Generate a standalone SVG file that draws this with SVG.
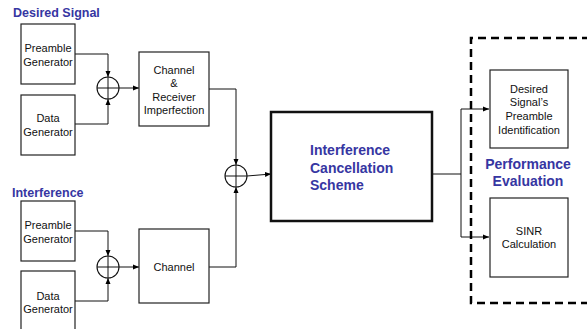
<svg xmlns="http://www.w3.org/2000/svg" width="587" height="329" viewBox="0 0 587 329">
<defs>
<marker id="ah" viewBox="0 0 6 6" refX="6" refY="3" markerWidth="6" markerHeight="6" markerUnits="userSpaceOnUse" orient="auto"><path d="M0,0.5 L6,3 L0,5.5 z" fill="#000"/></marker>
<style>
.box{fill:#fff;stroke:#222;stroke-width:1.2}
.t{font-family:"Liberation Sans",Arial,sans-serif;font-size:11px;fill:#111;text-anchor:middle}
.h{font-family:"Liberation Sans",Arial,sans-serif;font-weight:bold;fill:#3636a2}
.ln{fill:none;stroke:#111;stroke-width:1}
.sum circle{fill:#fff;stroke:#111;stroke-width:1.1}
.sum path{stroke:#111;stroke-width:1;fill:none}
</style>
</defs>
<rect width="587" height="329" fill="#fff"/>
<text class="h" x="13" y="17" font-size="12.5">Desired Signal</text>
<text class="h" x="12" y="197" font-size="12.5">Interference</text>
<g id="connectors">
<path class="ln" d="M75,54 H108 V77" marker-end="url(#ah)"/>
<path class="ln" d="M75,124 H108 V99" marker-end="url(#ah)"/>
<path class="ln" d="M119,88 H139" marker-end="url(#ah)"/>
<path class="ln" d="M75,231 H108 V256" marker-end="url(#ah)"/>
<path class="ln" d="M75,301 H108 V278" marker-end="url(#ah)"/>
<path class="ln" d="M119,267 H139" marker-end="url(#ah)"/>
<path class="ln" d="M209,89 H236 V165" marker-end="url(#ah)"/>
<path class="ln" d="M209,267 H236 V187" marker-end="url(#ah)"/>
<path class="ln" d="M247,176 L271,174" marker-end="url(#ah)"/>
<path class="ln" d="M432,174 H461 V109 H489" marker-end="url(#ah)"/>
<path class="ln" d="M461,174 V237 H489" marker-end="url(#ah)"/>
</g>
<g id="perf-eval">
<path d="M590,38 H471 V303 H590" fill="none" stroke="#000" stroke-width="2.5" stroke-dasharray="8,5"/>
<text class="h" x="528" y="169" font-size="14" text-anchor="middle">Performance</text>
<text class="h" x="528" y="186" font-size="14" text-anchor="middle">Evaluation</text>
</g>
<g id="ds-preamble"><rect class="box" x="21" y="24" width="54" height="60"/><text class="t" x="48" y="52">Preamble</text><text class="t" x="48" y="66">Generator</text></g>
<g id="ds-data"><rect class="box" x="21" y="95" width="54" height="60"/><text class="t" x="48" y="122">Data</text><text class="t" x="48" y="136">Generator</text></g>
<g id="sum1" class="sum"><circle cx="108" cy="88" r="11"/><path d="M97,88 H119 M108,77 V99"/></g>
<g id="channel-rx"><rect class="box" x="139" y="52" width="70" height="74"/><text class="t" x="174" y="74">Channel</text><text class="t" x="174" y="87">&amp;</text><text class="t" x="174" y="101">Receiver</text><text class="t" x="174" y="114">Imperfection</text></g>
<g id="if-preamble"><rect class="box" x="21" y="201" width="54" height="60"/><text class="t" x="48" y="229">Preamble</text><text class="t" x="48" y="243">Generator</text></g>
<g id="if-data"><rect class="box" x="21" y="271" width="54" height="62"/><text class="t" x="48" y="300">Data</text><text class="t" x="48" y="313">Generator</text></g>
<g id="sum2" class="sum"><circle cx="108" cy="267" r="11"/><path d="M97,267 H119 M108,256 V278"/></g>
<g id="channel"><rect class="box" x="139" y="229" width="70" height="74"/><text class="t" x="174" y="271">Channel</text></g>
<g id="sum3" class="sum"><circle cx="236" cy="176" r="11"/><path d="M225,176 H247 M236,165 V187"/></g>
<g id="ics"><rect x="271" y="112" width="161" height="109" fill="#fff" stroke="#111" stroke-width="2.5"/><text class="h" x="310" y="155" font-size="14">Interference</text><text class="h" x="310" y="173" font-size="14">Cancellation</text><text class="h" x="310" y="190" font-size="14">Scheme</text></g>
<g id="preamble-id"><rect class="box" x="490" y="70" width="78" height="78"/><text class="t" x="529" y="93">Desired</text><text class="t" x="529" y="106">Signal’s</text><text class="t" x="529" y="120">Preamble</text><text class="t" x="529" y="134">Identification</text></g>
<g id="sinr"><rect class="box" x="490" y="198" width="78" height="79"/><text class="t" x="529" y="235">SINR</text><text class="t" x="529" y="248">Calculation</text></g>
</svg>
